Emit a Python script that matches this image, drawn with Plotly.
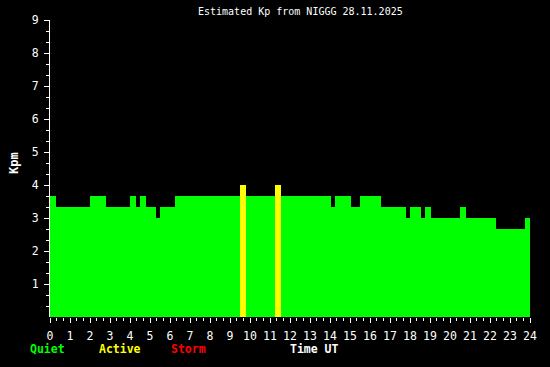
import plotly.graph_objects as go

# Kp segments (hours UT): start, end, value
seg_start = [0.0, 0.3, 2.0, 2.8, 4.0, 4.3, 4.5, 4.8, 5.3, 5.5, 6.25, 9.5, 9.8, 11.25, 11.55,
             14.05, 14.25, 15.05, 15.5, 16.55, 17.8, 18.0, 18.55, 18.75, 19.05, 20.5, 20.8,
             22.3, 23.75]
seg_end = [0.3, 2.0, 2.8, 4.0, 4.3, 4.5, 4.8, 5.3, 5.5, 6.25, 9.5, 9.8, 11.25, 11.55, 14.05,
           14.25, 15.05, 15.5, 16.55, 17.8, 18.0, 18.55, 18.75, 19.05, 20.5, 20.8, 22.3,
           23.75, 24.0]
kp_values = [3.667, 3.333, 3.667, 3.333, 3.667, 3.333, 3.667, 3.333, 3.0, 3.333, 3.667, 4.0,
             3.667, 4.0, 3.667, 3.333, 3.667, 3.333, 3.667, 3.333, 3.0, 3.333, 3.0, 3.333,
             3.0, 3.333, 3.0, 2.667, 3.0]

x_ticks = list(range(0, 25))
y_ticks = list(range(1, 10))
title_text = "Estimated Kp from NIGGG 28.11.2025"

def kp_color(v):
    if v >= 5:
        return "#FF0000"
    if v >= 4:
        return "#FFFF00"
    return "#00FF00"

centers = [(a + b) / 2 for a, b in zip(seg_start, seg_end)]
widths = [b - a for a, b in zip(seg_start, seg_end)]
colors = [kp_color(v) for v in kp_values]

fig = go.Figure(go.Bar(x=centers, y=kp_values, width=widths,
                       marker=dict(color=colors, line=dict(width=0)),
                       hoverinfo="x+y"))

font = "DejaVu Sans Mono"
fig.update_layout(
    width=550, height=367,
    paper_bgcolor="black", plot_bgcolor="black",
    margin=dict(l=50, r=20, t=20, b=50),
    showlegend=False, bargap=0,
    font=dict(family=font, size=11, color="white"),
)
fig.update_xaxes(
    range=[0, 24], tickvals=x_ticks, ticktext=[str(t) for t in x_ticks],
    ticks="outside", ticklen=5, tickcolor="white", tickwidth=1,
    showgrid=False, zeroline=False, showline=False, ticklabelstandoff=3,
    tickfont=dict(family=font, size=11.5, color="white"),
    minor=dict(tickvals=[i / 3 for i in range(0, 73) if i % 3 != 0],
               ticks="outside", ticklen=3, tickcolor="white", tickwidth=1, showgrid=False),
)
fig.update_yaxes(
    range=[0, 9], tickvals=y_ticks, ticktext=[str(t) for t in y_ticks],
    ticks="outside", ticklen=5, tickcolor="white", tickwidth=1,
    showgrid=False, zeroline=False, showline=True, linecolor="white", linewidth=1,
    ticklabelstandoff=3,
    tickfont=dict(family=font, size=11.5, color="white"),
    minor=dict(tickvals=[i / 3 for i in range(1, 27) if i % 3 != 0],
               ticks="outside", ticklen=3, tickcolor="white", tickwidth=1, showgrid=False),
)

def px_x(px):
    return (px - 50) / 480

def px_y(py):
    return (317 - py) / 297

anns = [
    dict(text=title_text, x=px_x(300), y=px_y(12), size=10, color="white"),
    dict(text="<b>Quiet</b>", x=px_x(47), y=px_y(349), size=11.5, color="#00FF00"),
    dict(text="<b>Active</b>", x=px_x(120), y=px_y(349), size=11.5, color="#FFFF00"),
    dict(text="<b>Storm</b>", x=px_x(188), y=px_y(349), size=11.5, color="#FF0000"),
    dict(text="<b>Time UT</b>", x=px_x(314), y=px_y(349), size=11.5, color="white"),
]
for a in anns:
    fig.add_annotation(text=a["text"], x=a["x"], y=a["y"], xref="paper", yref="paper",
                       showarrow=False, xanchor="center", yanchor="middle",
                       font=dict(family=font, size=a["size"], color=a["color"]))
fig.add_annotation(text="<b>Kpm</b>", x=px_x(14), y=px_y(163), xref="paper", yref="paper",
                   showarrow=False, textangle=-90, xanchor="center", yanchor="middle",
                   font=dict(family=font, size=12, color="white"))

fig.write_html("out.html")
